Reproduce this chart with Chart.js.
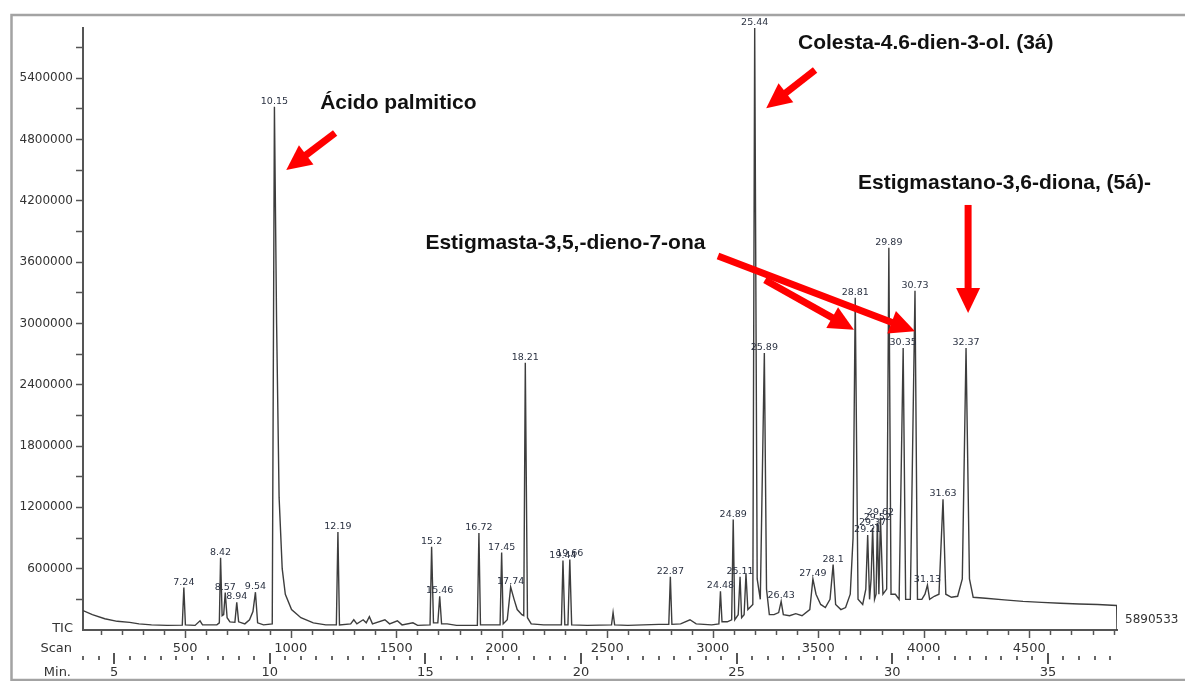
<!DOCTYPE html>
<html><head><meta charset="utf-8">
<script src="https://cdn.jsdelivr.net/npm/chart.js@4.4.1/dist/chart.umd.min.js"></script>
<style>html,body{margin:0;padding:0;background:#fff;} #wrap{width:1185px;height:681px;position:relative;}</style>
</head><body><div id="wrap"><canvas id="c"></canvas></div>
<script>
// ---- DATA ----
const traceMin = [4.00,4.30,4.70,5.10,5.50,5.80,6.20,6.70,7.19,7.24,7.29,7.60,7.76,7.84,8.30,8.38,8.42,8.47,8.52,8.57,8.63,8.72,8.88,8.94,9.00,9.20,9.35,9.46,9.54,9.61,9.80,10.08,10.15,10.22,10.30,10.40,10.50,10.70,11.00,11.40,11.80,12.14,12.19,12.24,12.60,12.70,12.80,13.00,13.10,13.20,13.30,13.70,13.85,14.10,14.25,14.60,14.75,15.15,15.20,15.26,15.40,15.46,15.52,15.70,16.00,16.67,16.72,16.77,17.20,17.40,17.45,17.50,17.63,17.74,17.85,17.95,18.10,18.16,18.21,18.28,18.40,18.80,19.37,19.42,19.48,19.58,19.64,19.70,20.20,20.98,21.03,21.08,21.50,22.00,22.50,22.82,22.87,22.92,23.20,23.50,23.70,24.20,24.43,24.48,24.53,24.70,24.84,24.89,24.94,25.05,25.11,25.16,25.24,25.30,25.36,25.52,25.58,25.66,25.76,25.89,25.96,26.05,26.20,26.35,26.43,26.50,26.70,26.90,27.10,27.35,27.45,27.55,27.70,27.85,28.00,28.10,28.18,28.35,28.50,28.65,28.74,28.81,28.90,29.05,29.15,29.21,29.27,29.32,29.37,29.43,29.48,29.52,29.57,29.62,29.70,29.82,29.89,29.96,30.10,30.22,30.35,30.43,30.58,30.73,30.81,30.95,31.05,31.13,31.20,31.35,31.50,31.63,31.72,31.90,32.10,32.25,32.37,32.48,32.60,33.00,33.60,34.20,34.80,35.40,36.00,36.60,37.21,37.22];
const traceTIC = [190000,150000,110000,85000,75000,60000,50000,45000,48000,415000,50000,45000,90000,50000,50000,70000,708000,140000,150000,366000,120000,80000,75000,270000,80000,60000,100000,180000,370000,70000,50000,60000,5120000,3000000,1300000,600000,350000,200000,120000,70000,50000,50000,960000,50000,60000,100000,60000,100000,70000,130000,60000,100000,60000,90000,50000,70000,45000,50000,815000,70000,70000,330000,60000,60000,45000,45000,950000,50000,50000,50000,757000,60000,100000,420000,300000,200000,150000,140000,2615000,120000,60000,50000,50000,680000,50000,50000,690000,50000,45000,50000,170000,50000,45000,50000,55000,55000,520000,55000,60000,100000,60000,50000,60000,380000,80000,80000,100000,1080000,100000,150000,520000,120000,150000,550000,200000,250000,5890533,500000,300000,2710000,400000,150000,150000,170000,280000,150000,140000,160000,140000,200000,500000,350000,250000,220000,300000,640000,250000,200000,220000,350000,900000,3250000,300000,250000,400000,930000,300000,500000,1000000,300000,350000,1050000,350000,1100000,350000,400000,3740000,350000,350000,300000,2760000,300000,300000,3320000,300000,300000,350000,440000,300000,330000,350000,1280000,350000,320000,330000,500000,2760000,500000,320000,310000,295000,280000,270000,262000,255000,250000,240000,0];
const peakLabels = ["7.24","8.42","8.57","8.94","9.54","10.15","12.19","15.2","15.46","16.72","17.45","17.74","18.21","19.44","19.66","22.87","24.48","24.89","25.11","25.44","25.89","26.43","27.49","28.1","28.81","29.21","29.37","29.52","29.62","29.89","30.35","30.73","31.13","31.63","32.37"];
const peakMin = [7.24,8.42,8.57,8.94,9.54,10.15,12.19,15.20,15.46,16.72,17.45,17.74,18.21,19.42,19.64,22.87,24.48,24.89,25.11,25.58,25.89,26.43,27.45,28.10,28.81,29.21,29.37,29.52,29.62,29.89,30.35,30.73,31.13,31.63,32.37];
const yTickLabels = [600000,1200000,1800000,2400000,3000000,3600000,4200000,4800000,5400000];
const yMinorStep = 300000;
const scanTickLabels = [500,1000,1500,2000,2500,3000,3500,4000,4500];
const minTickLabels = [5,10,15,20,25,30,35];
const fullScale = 5890533;
const scanStartMin = 3.893;   // retention time of scan 0
const scansPerMin = 147.5;

// annotation texts and arrows (anchored in data coordinates: minutes, TIC)
const noteTexts = [
  {text:"Ácido palmitico", t:11.62, v:5156000},
  {text:"Colesta-4.6-dien-3-ol. (3á)", t:26.97, v:5742000},
  {text:"Estigmastano-3,6-diona, (5á)-", t:28.90, v:4374000},
  {text:"Estigmasta-3,5,-dieno-7-ona", t:15.00, v:3788000}
];
const noteArrows = [
  {from:[12.10,4863000], to:[10.53,4501000]},
  {from:[27.52,5479000], to:[25.95,5106000]},
  {from:[32.436,4159000], to:[32.436,3103000]},
  {from:[24.40,3660000], to:[30.73,2924000]},
  {from:[25.91,3425000], to:[28.77,2937000]}
];

const AX = '#555';
const decor = {
  id:'decor',
  beforeDraw(chart){
    const c = chart.ctx;
    c.save();
    c.fillStyle = '#fff'; c.fillRect(0,0,chart.width,chart.height);
    c.strokeStyle = '#a3a3a3'; c.lineWidth = 2.5;
    c.strokeRect(11.5,15,1300,665);
    c.restore();
  },
  afterDraw(chart){
    const c = chart.ctx, x = chart.scales.x, y = chart.scales.y, a = chart.chartArea;
    c.save();
    // scan axis ticks
    c.strokeStyle = AX; c.lineWidth = 1.5;
    for (let s = 100; ; s += 100){
      const t = scanStartMin + s/scansPerMin;
      if (t > x.max) break;
      const px = Math.round(x.getPixelForValue(t)) + 0.5;
      const major = s % 500 === 0;
      c.beginPath(); c.moveTo(px, a.bottom + 1); c.lineTo(px, a.bottom + (major ? 8 : 5)); c.stroke();
    }
    c.fillStyle = '#333'; c.font = '13px "DejaVu Sans"'; c.textAlign = 'center'; c.textBaseline = 'middle';
    scanTickLabels.forEach(s => {
      const px = x.getPixelForValue(scanStartMin + s/scansPerMin);
      c.fillText(String(s), px, a.bottom + 19);
    });
    // minutes axis: dotted ticks every 0.5 min, tall ticks at labelled minutes
    for (let k = Math.ceil(x.min*2); k/2 <= x.max; k++){
      const m = k/2;
      const px = Math.round(x.getPixelForValue(m));
      if (minTickLabels.includes(m)) {
        c.fillStyle = AX; c.fillRect(px-1, a.bottom + 23, 2, 11);
      } else {
        c.fillStyle = '#666'; c.fillRect(px-1, a.bottom + 26, 2, 4);
      }
    }
    c.fillStyle = '#333';
    minTickLabels.forEach(m => {
      c.fillText(String(m), x.getPixelForValue(m), a.bottom + 43);
    });
    // row titles
    c.textAlign = 'right'; c.font = '13px "DejaVu Sans"';
    c.fillText('TIC', a.left - 10, a.bottom - 1);
    c.fillText('Scan', a.left - 11, a.bottom + 19);
    c.fillText('Min.', a.left - 12, a.bottom + 43);
    // full-scale value
    c.textAlign = 'left'; c.font = '12px "DejaVu Sans"';
    c.fillText(String(fullScale), a.right + 8, a.bottom - 10);
    // peak labels
    c.textAlign = 'center'; c.textBaseline = 'alphabetic';
    c.font = '9.5px "DejaVu Sans"'; c.fillStyle = '#2b3242';
    peakLabels.forEach((lab, i) => {
      const idx = traceMin.indexOf(peakMin[i]);
      const px = x.getPixelForValue(peakMin[i]);
      const py = y.getPixelForValue(traceTIC[idx]);
      c.fillText(lab, px, py - 3);
    });
    // arrows
    c.fillStyle = '#ff0000'; c.strokeStyle = '#ff0000';
    noteArrows.forEach(ar => {
      const x0 = x.getPixelForValue(ar.from[0]), y0 = y.getPixelForValue(ar.from[1]);
      const x1 = x.getPixelForValue(ar.to[0]), y1 = y.getPixelForValue(ar.to[1]);
      const dx = x1-x0, dy = y1-y0, L = Math.hypot(dx,dy), ux = dx/L, uy = dy/L;
      const hl = 25, hw = 12;
      c.lineWidth = 7; c.lineCap = 'butt';
      c.beginPath(); c.moveTo(x0,y0); c.lineTo(x1-ux*(hl-2), y1-uy*(hl-2)); c.stroke();
      c.beginPath();
      c.moveTo(x1,y1);
      c.lineTo(x1-ux*hl - uy*hw, y1-uy*hl + ux*hw);
      c.lineTo(x1-ux*hl + uy*hw, y1-uy*hl - ux*hw);
      c.closePath(); c.fill();
    });
    // annotation texts
    c.fillStyle = '#111'; c.textAlign = 'left'; c.textBaseline = 'middle';
    c.font = 'bold 21px "Liberation Sans", Arial, sans-serif';
    noteTexts.forEach(n => {
      c.fillText(n.text, x.getPixelForValue(n.t), y.getPixelForValue(n.v));
    });
    c.restore();
  }
};

new Chart(document.getElementById('c'), {
  type: 'line',
  data: { datasets: [{
    data: traceMin.map((t,i) => ({x:t, y:traceTIC[i]})),
    borderColor: '#3d3d3d', borderWidth: 1.4, pointRadius: 0, tension: 0, fill: false
  }]},
  options: {
    responsive: true, maintainAspectRatio: false, animation: false, devicePixelRatio: 1,
    layout: { padding: { top: 28, right: 68, bottom: 0, left: 0 } },
    plugins: { legend: {display:false}, tooltip: {enabled:false} },
    scales: {
      x: { type:'linear', min: 4.0, max: 37.22,
           afterFit: s => { s.height = 51; },
           ticks: { display:false },
           grid: { display:true, drawOnChartArea:false, drawTicks:false },
           border: { display:true, color: AX, width: 2 } },
      y: { type:'linear', min: 0, max: fullScale,
           afterFit: s => { s.width = 83; },
           afterBuildTicks: s => {
             const t = [];
             for (let v = yMinorStep; v < fullScale; v += yMinorStep) t.push({value: v});
             s.ticks = t;
           },
           ticks: { autoSkip: false, padding: 3,
                    color: '#333', font: { family: 'DejaVu Sans', size: 12 },
                    callback: v => yTickLabels.includes(v) ? String(v) : '' },
           grid: { drawOnChartArea:false, tickLength: 7, color: AX, tickWidth: 1.5 },
           border: { display:true, color: AX, width: 2 } }
    }
  },
  plugins: [decor]
});
</script></body></html>
